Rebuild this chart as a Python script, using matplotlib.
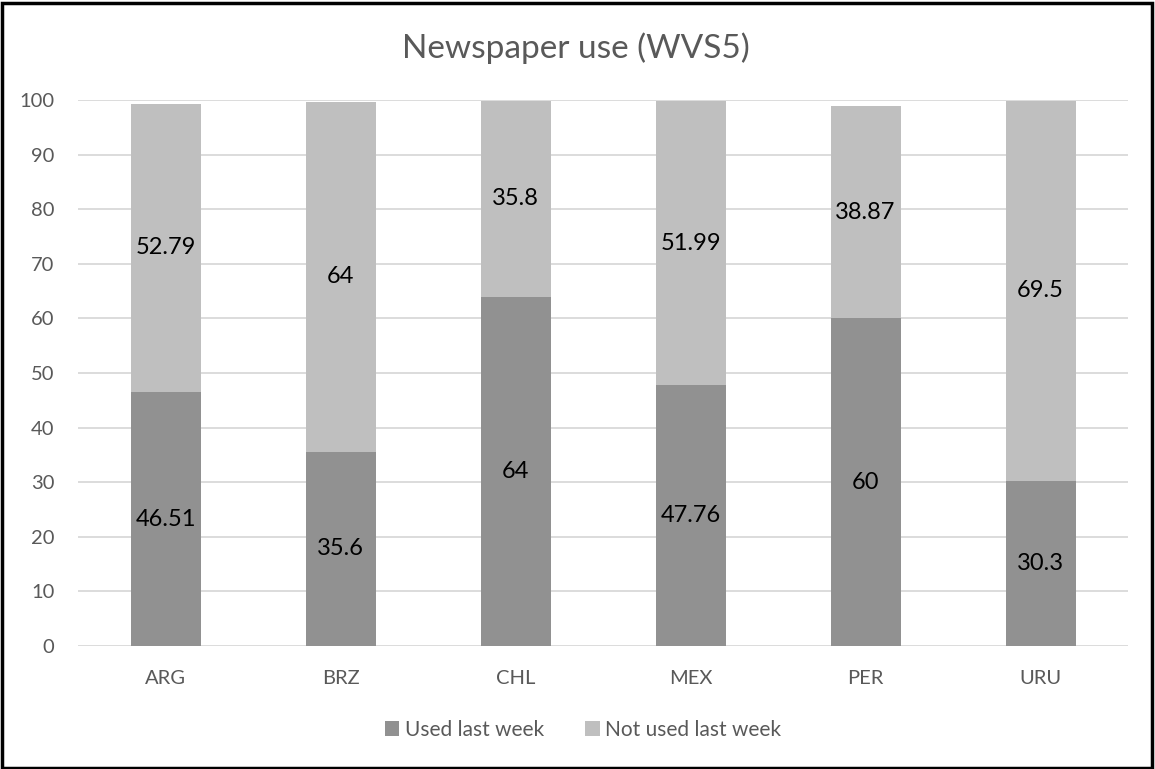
import matplotlib
matplotlib.use("Agg")
import matplotlib.pyplot as plt
from matplotlib.patches import Rectangle

countries = ["ARG", "BRZ", "CHL", "MEX", "PER", "URU"]
used_last_week = [46.51, 35.6, 64, 47.76, 60, 30.3]
not_used_last_week = [52.79, 64, 35.8, 51.99, 38.87, 69.5]
y_ticks = [0, 10, 20, 30, 40, 50, 60, 70, 80, 90, 100]

plt.rcParams["font.family"] = ["Lato", "DejaVu Sans"]

W, H = 1155, 769
fig = plt.figure(figsize=(W / 100, H / 100), dpi=100)
ax = fig.add_axes([78 / W, 1 - 646 / H, (1128 - 78) / W, (646 - 100) / H])

dark = "#919191"
light = "#bfbfbf"
text_grey = "#595959"

x = list(range(len(countries)))
b1 = ax.bar(x, used_last_week, width=0.4, color=dark, label="Used last week", zorder=2)
b2 = ax.bar(x, not_used_last_week, width=0.4, bottom=used_last_week, color=light,
            label="Not used last week", zorder=2)

for i in x:
    ax.text(i, used_last_week[i] / 2, f"{used_last_week[i]:g}", ha="center", va="center",
            fontsize=17, color="black", zorder=3)
    ax.text(i, used_last_week[i] + not_used_last_week[i] / 2, f"{not_used_last_week[i]:g}",
            ha="center", va="center", fontsize=17, color="black", zorder=3)

ax.set_xlim(-0.5, len(countries) - 0.5)
ax.set_ylim(0, 100)
ax.set_yticks(y_ticks)
ax.set_xticks(x)
ax.set_xticklabels(countries)
ax.yaxis.grid(True, color="#d9d9d9", linewidth=1.3, zorder=0)
ax.set_axisbelow(True)
for s in ax.spines.values():
    s.set_visible(False)
ax.tick_params(axis="both", length=0, labelsize=14.5, colors=text_grey)
ax.tick_params(axis="y", pad=17)
ax.tick_params(axis="x", pad=17)

fig.text(576 / W, 1 - 48 / H, "Newspaper use (WVS5)", ha="center", va="center",
         fontsize=24, color=text_grey)

leg = fig.legend(handles=[b1, b2], loc="center", bbox_to_anchor=(583 / W, 1 - 730 / H),
                 ncol=2, frameon=False, fontsize=15, handlelength=0.7, handleheight=0.7,
                 handletextpad=0.25, columnspacing=2.0)
for t in leg.get_texts():
    t.set_color(text_grey)

fig.patches.append(Rectangle((2 / W, 1 / H), (1152 - 2) / W, (766 - 1) / H,
                             transform=fig.transFigure, fill=False,
                             edgecolor="black", linewidth=2.5))

fig.savefig("out.png", dpi=100, facecolor="white")
